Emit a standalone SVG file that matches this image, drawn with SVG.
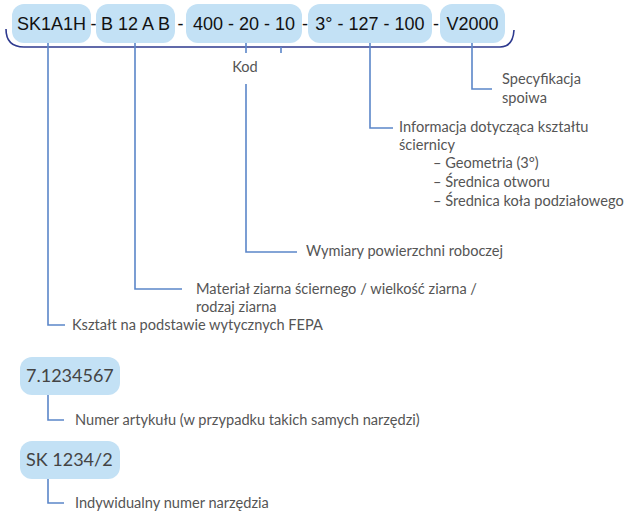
<svg xmlns="http://www.w3.org/2000/svg" width="625" height="515" viewBox="0 0 625 515">
<style>
.box{fill:#c3e1f5;}
.code{font-family:"Liberation Sans",Arial,sans-serif;font-size:18px;fill:#111;}
.code2{font-family:Lato,"Open Sans",sans-serif;font-size:18px;fill:#444;}
.lbl{font-family:Lato,"Noto Sans",sans-serif;font-size:14.6px;fill:#555;}
.ln{fill:none;stroke:#5b86c9;stroke-width:1.6;}
.br{fill:none;stroke:#2e3a8f;stroke-width:1.6;}
</style>
<rect width="625" height="515" fill="#fff"/>
<g id="code-row">
<g id="n-sk1a1h"><rect class="box" x="12" y="4" width="79" height="39" rx="12"/><text class="code" x="51.5" y="30" text-anchor="middle">SK1A1H</text></g>
<text class="code" x="93.5" y="30" text-anchor="middle">-</text>
<g id="n-b12ab"><rect class="box" x="96" y="4" width="79" height="39" rx="12"/><text class="code" x="135.5" y="30" text-anchor="middle">B 12 A B</text></g>
<text class="code" x="180.5" y="30" text-anchor="middle">-</text>
<g id="n-dims"><rect class="box" x="186" y="4" width="116" height="39" rx="12"/><text class="code" x="244" y="30" text-anchor="middle">400 - 20 - 10</text></g>
<text class="code" x="305" y="30" text-anchor="middle">-</text>
<g id="n-shape"><rect class="box" x="308" y="4" width="124" height="39" rx="12"/><text class="code" x="370" y="30" text-anchor="middle">3° - 127 - 100</text></g>
<text class="code" x="436" y="30" text-anchor="middle">-</text>
<g id="n-v2000"><rect class="box" x="440" y="4" width="65" height="39" rx="12"/><text class="code" x="472.5" y="30" text-anchor="middle">V2000</text></g>
</g>
<g id="n-kod"><text class="lbl" x="245" y="72" text-anchor="middle">Kod</text></g>
<g id="n-article"><rect class="box" x="20" y="357" width="100" height="38" rx="12"/><text class="code2" x="26" y="382">7.1234567</text></g>
<g id="n-sk1234"><rect class="box" x="20" y="441" width="100" height="38" rx="12"/><text class="code2" x="26" y="466">SK 1234/2</text></g>
<g id="labels">
<text class="lbl" x="502" y="84">Specyfikacja</text>
<text class="lbl" x="502" y="103">spoiwa</text>
<text class="lbl" x="399" y="132">Informacja dotycząca kształtu</text>
<text class="lbl" x="399" y="150">ściernicy</text>
<text class="lbl" x="433" y="168">– Geometria (3°)</text>
<text class="lbl" x="433" y="187">– Średnica otworu</text>
<text class="lbl" x="433" y="206">– Średnica koła podziałowego</text>
<text class="lbl" x="306" y="256">Wymiary powierzchni roboczej</text>
<text class="lbl" x="196" y="294">Materiał ziarna ściernego / wielkość ziarna /</text>
<text class="lbl" x="196" y="312">rodzaj ziarna</text>
<text class="lbl" x="72" y="330">Kształt na podstawie wytycznych FEPA</text>
<text class="lbl" x="75" y="425">Numer artykułu (w przypadku takich samych narzędzi)</text>
<text class="lbl" x="75" y="508">Indywidualny numer narzędzia</text>
</g>
<g id="connectors">
<path class="br" d="M6,29 Q6,47 24,47 H500 Q513,47 514,30"/>
<path class="ln" d="M246,43 V53"/>
<path class="ln" d="M281,47 V53"/>
<path class="ln" d="M246,84 V252 H297"/>
<path class="ln" d="M48,43 V325 H65"/>
<path class="ln" d="M135,43 V289 H182"/>
<path class="ln" d="M370,43 V128 H393"/>
<path class="ln" d="M472,43 V89 H492"/>
<path class="ln" d="M48,395 V420 H64"/>
<path class="ln" d="M48,479 V503 H64"/>
</g>
</svg>
